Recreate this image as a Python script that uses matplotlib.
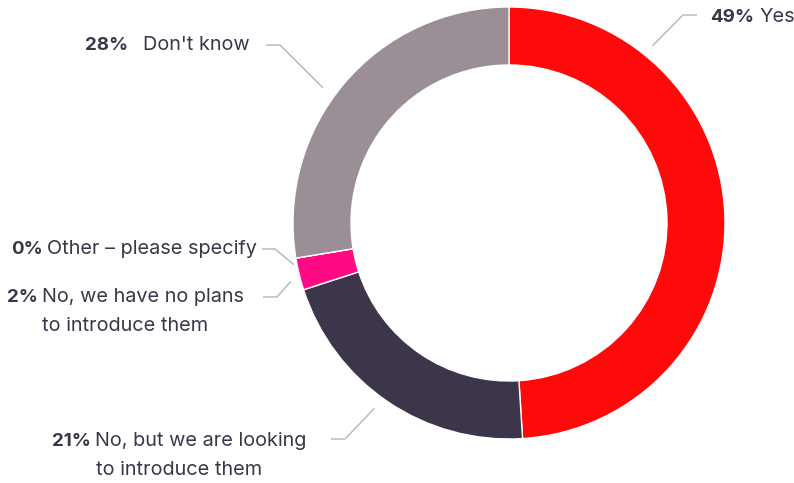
import numpy as np
import matplotlib.pyplot as plt

plt.rcParams['font.family'] = ['Inter', 'DejaVu Sans']

# survey answers, clockwise from the top
answers = ["Yes", "No, but we are looking\nto introduce them",
           "No, we have no plans\nto introduce them", "Other – please specify",
           "Don't know"]
shares = [49, 21, 2.4, 0, 27.6]
shown_pct = ["49%", "21%", "2%", "0%", "28%"]
colors = ["#ff0a0a", "#3d3549", "#ff0a84", "#c8c0c6", "#9a8f96"]

text_color = "#3d3549"
line_color = "#b4b4b4"

W, H = 794, 483
fig = plt.figure(figsize=(W / 100, H / 100), dpi=100)
ax = fig.add_axes([0, 0, 1, 1])

cx, cy, R = 509, H - 223, 216
ax.pie(shares, colors=colors, startangle=90, counterclock=False,
       radius=R, center=(cx, cy), frame=True,
       wedgeprops=dict(width=58, edgecolor='white', linewidth=1))
ax.set_xlim(0, W)
ax.set_ylim(0, H)
ax.set_aspect('auto')
ax.axis('off')

# leader lines: angle on the ring, elbow point, end of horizontal run
leaders = [
    (51, 228, (683, 15), (697, 15)),
    (234, 229, (345, 439), (331, 439)),
    (195, 226, (277, 297), (263, 297)),
    (191, 219, (275, 249), (262, 249)),
    (144, 230, (280, 45), (266, 45)),
]
for ang, r, elbow, end in leaders:
    a = np.radians(ang)
    x0, y0 = cx + r * np.cos(a), cy + r * np.sin(a)
    ax.plot([x0, elbow[0], end[0]], [y0, H - elbow[1], H - end[1]],
            color=line_color, lw=1, solid_capstyle='butt')

# label anchors: x, y of first line, alignment, gap after the percentage
anchors = [
    (710, 17, 'left', 5),
    (306, 441, 'right', 4),
    (244, 297, 'right', 4),
    (257, 249, 'right', 4),
    (250, 45, 'right', 15),
]

fs_pct, fs_txt = 13.5, 14.3
renderer = fig.canvas.get_renderer()


def width_of(t):
    return t.get_window_extent(renderer=renderer).width


for (x, y, ha, gap), pct, ans in zip(anchors, shown_pct, answers):
    lines = ans.split("\n")
    tb = ax.text(0, H - y, pct, fontsize=fs_pct, fontweight='bold',
                 color=text_color, va='center')
    tr = ax.text(0, H - y, lines[0], fontsize=fs_txt, color=text_color,
                 va='center')
    wb, wr = width_of(tb), width_of(tr)
    total = wb + gap + wr
    left = x if ha == 'left' else x - total
    tb.set_x(left)
    tr.set_x(left + wb + gap)
    for i, extra in enumerate(lines[1:], 1):
        ax.text(left + total / 2, H - y - 29 * i, extra, fontsize=fs_txt,
                color=text_color, va='center', ha='center')

fig.savefig("out.png", dpi=100, facecolor='white')
